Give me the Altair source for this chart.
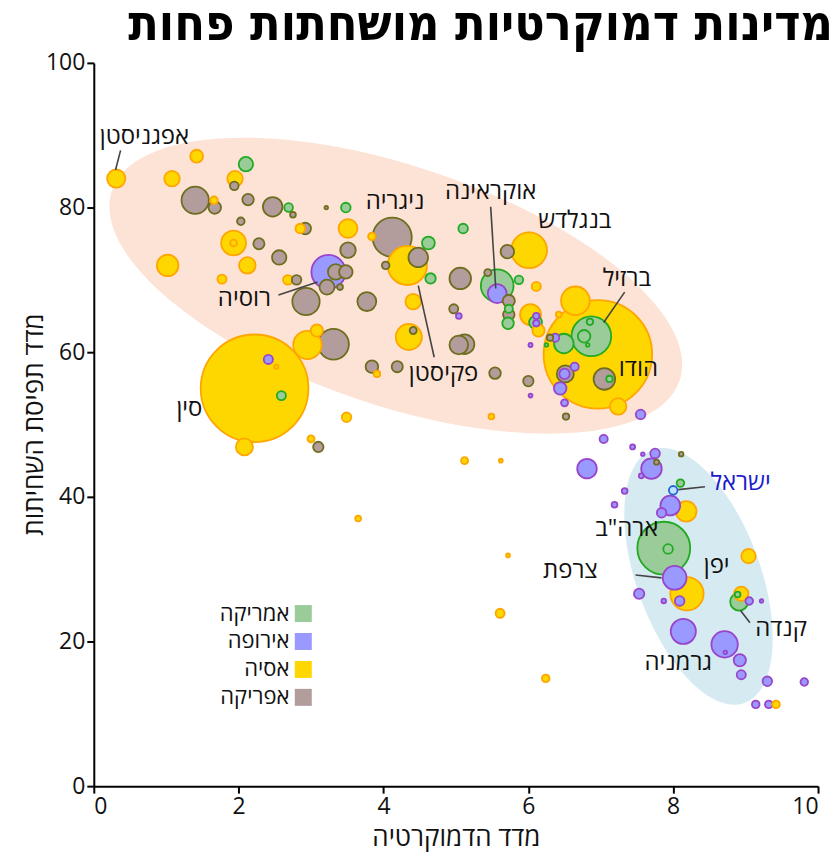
import altair as alt
import pandas as pd

# ---------------- data ----------------
AM, EU, AS, AF, IL = "אמריקה", "אירופה", "אסיה", "אפריקה", "ישראל"

bub_x = [0.31,1.42,2.10,1.08,1.95,1.94,1.40,1.66,1.67,2.13,2.47,2.69,2.75,3.21,3.48,2.03,2.85,2.92,3.51,3.84,
         4.12,1.93,1.93,2.28,1.02,2.12,1.77,2.56,3.51,3.24,3.34,3.48,3.22,3.40,2.68,2.80,2.93,3.77,2.95,3.08,
         3.31,3.84,3.91,2.22,2.41,2.52,2.59,3.49,2.08,3.00,3.10,4.33,4.48,4.62,4.65,4.03,4.41,4.35,4.41,4.19,
         5.06,5.10,4.97,5.04,5.04,5.12,5.54,5.57,5.57,5.44,5.87,5.71,6.01,5.73,5.73,5.73,5.72,6.11,6.03,6.10,
         6.11,6.11,6.14,6.03,6.25,6.30,6.37,6.65,6.42,6.87,6.85,6.77,6.82,6.49,6.96,7.05,7.12,6.51,6.50,6.44,
         6.64,6.50,6.03,6.00,5.49,6.52,7.24,7.55,7.04,5.12,5.62,7.44,7.58,7.75,7.70,7.77,8.11,6.81,7.56,7.33,
         8.10,8.00,7.96,7.84,8.18,7.19,7.87,7.93,8.02,8.19,8.09,7.53,7.87,8.14,5.61,5.72,6.24,3.65,9.04,8.91,
         8.94,8.89,9.05,9.22,8.71,8.72,8.92,8.94,9.30,9.81,9.14,9.32,9.42]
bub_y = [84.0,87.1,86.0,84.0,84.0,83.0,81.0,81.0,80.0,81.1,80.1,80.0,79.0,80.0,80.0,78.1,77.1,77.1,77.1,76.0,
         75.9,75.1,75.1,75.0,72.0,72.0,70.1,73.1,74.1,71.1,71.1,71.1,69.0,69.0,70.0,70.0,67.0,67.0,61.0,63.0,
         61.1,58.0,57.0,55.0,59.0,58.0,54.0,51.0,46.9,48.0,46.9,72.0,73.1,75.1,70.2,72.0,67.0,62.1,63.0,58.0,
         70.2,77.1,66.0,65.0,61.0,61.1,57.1,69.2,68.1,71.0,70.0,73.9,74.1,67.1,65.2,66.0,64.0,69.1,65.2,64.1,
         65.0,64.0,63.0,61.0,61.0,62.0,62.0,67.1,65.2,62.2,64.2,62.2,61.0,61.2,59.7,56.3,56.3,57.0,57.0,55.0,
         58.0,53.0,54.0,56.0,51.1,51.1,52.5,51.4,48.0,45.0,45.0,46.9,45.9,46.0,43.9,44.8,45.9,43.9,42.9,40.8,
         41.9,40.9,38.8,37.8,38.0,38.9,32.9,32.8,28.8,26.6,25.6,26.6,25.6,21.4,23.9,31.9,14.9,37.0,31.8,25.5,
         26.6,26.5,25.6,25.6,19.6,18.5,17.4,15.4,14.5,14.4,11.3,11.3,11.3]
bub_pop = [40,20,25,29,29,9,90,7,19,16,46,9,4,1.5,11,7,11,16,43,7,
           185,74,5.5,15,56,33,10,25,29,140,29,22,27,4,11,11,90,43,97,18,
           114,19,5,1400,10,2,10,11,35,6,13,185,46,20,13,7,29,82,6,15,
           56,11,10,4,42,46,16,129,43,6,9,22,155,18,16,8,16,10,53,20,
           5,5,18,2,1.5,5,8,99,4,190,5,19,1.5,46,1420,56,5,35,13,19,
           8,6,1.8,13,4,5,33,11,8,6,1.8,3,1.5,11,51,3,2.5,46,3,4,
           7,9,47,11,51,4,337,11,68,134,11,13,2.5,76,10,1.8,7,4,25,38,
           25,4,7,1.5,84,1.5,18,10,11,7,7,7,7]
bub_cont = [AS,AS,AM,AS,AS,AF,AF,AS,AF,AF,AF,AM,AF,AF,AM,AF,AS,AF,AS,AS,
            AF,AS,AS,AF,AS,AS,AS,AF,AF,EU,AF,AF,AF,AF,AS,AF,AF,AF,AS,AS,
            AF,AF,AS,AS,EU,AS,AM,AS,AS,AS,AF,AS,AF,AM,AM,AF,AS,AS,AF,AF,
            AF,AM,AF,EU,AF,AF,AF,AM,EU,AF,AM,AF,AS,AF,AF,AM,AM,AS,AS,AM,
            EU,EU,AS,EU,AM,AF,EU,AS,AS,AM,AM,AM,AM,AM,AS,AF,AM,AF,EU,EU,
            EU,EU,EU,AF,AS,AF,AS,EU,EU,AS,AS,EU,EU,EU,EU,AF,AF,EU,EU,EU,
            AM,IL,EU,EU,AS,EU,AM,AM,EU,AS,EU,EU,EU,EU,AS,AS,AS,AS,AS,AM,
            AS,AM,EU,EU,EU,EU,EU,EU,EU,EU,EU,EU,AS]

cont_names = [AM, EU, AS, AF, IL]
cont_fill = ["#99cc99", "#9999ff", "#ffd700", "#b39c9c", "#bfe0ff"]
cont_stroke = ["#22aa22", "#9944cc", "#ffa500", "#6e6e1e", "#2266cc"]

lab_text = ["אפגניסטן", "ניגריה", "אוקראינה", "בנגלדש", "ברזיל", "רוסיה", "פקיסטן", "הודו", "סין",
            "ישראל", 'ארה"ב', "צרפת", "יפן", "קנדה", "גרמניה"]
lab_x = [0.70, 4.16, 5.48, 6.64, 7.36, 2.08, 4.83, 7.52, 1.32, 8.93, 7.36, 6.58, 8.60, 9.49, 8.07]
lab_y = [89.7, 80.8, 82.1, 78.2, 70.1, 67.3, 57.0, 57.7, 52.1, 41.9, 35.6, 29.8, 30.5, 21.7, 17.0]
lab_col = ["#111111"] * 9 + ["#1a1acc"] + ["#111111"] * 5

lead_x = [0.37, 5.48, 7.33, 2.55, 4.70, 8.44, 7.48, 8.93]
lead_y = [87.9, 80.1, 68.3, 67.9, 59.3, 41.4, 29.2, 24.3]
lead_x2 = [0.30, 5.55, 7.04, 3.09, 4.48, 8.07, 7.84, 9.06]
lead_y2 = [85.2, 68.8, 64.1, 69.7, 69.2, 41.0, 28.8, 22.6]

ell_x = [4.17, 8.35]
ell_y = [69.2, 29.0]

# ---------------- frames ----------------
bub = pd.DataFrame({"x": bub_x, "y": bub_y, "pop": bub_pop, "cont": bub_cont})
labs = pd.DataFrame({"t": lab_text, "x": lab_x, "y": lab_y, "c": lab_col})
leads = pd.DataFrame({"x": lead_x, "y": lead_y, "x2": lead_x2, "y2": lead_y2})
ell1 = pd.DataFrame({"x": ell_x[:1], "y": ell_y[:1]})
ell2 = pd.DataFrame({"x": ell_x[1:], "y": ell_y[1:]})

FONT = "Open Sans, DejaVu Sans"

def ellipse_path(r):
    k = 0.5523
    return (f"M -1 0 C -1 {-k*r:.4f} {-k:.4f} {-r:.4f} 0 {-r:.4f} "
            f"C {k:.4f} {-r:.4f} 1 {-k*r:.4f} 1 0 "
            f"C 1 {k*r:.4f} {k:.4f} {r:.4f} 0 {r:.4f} "
            f"C {-k:.4f} {r:.4f} -1 {k*r:.4f} -1 0 Z")

X = alt.X("x:Q", scale=alt.Scale(domain=[0, 10]),
          axis=alt.Axis(values=[0, 2, 4, 6, 8, 10], format="d", title="מדד הדמוקרטיה"))
Y = alt.Y("y:Q", scale=alt.Scale(domain=[0, 100]),
          axis=alt.Axis(values=[0, 20, 40, 60, 80, 100], format="d", title="מדד תפיסת השחיתות",
                        titleX=-59, titleY=362, titleBaseline="middle", titleAlign="center", titleAngle=270))

e1 = alt.Chart(ell1).mark_point(shape=ellipse_path(0.40), size=360000, angle=18.5, clip=True,
                                filled=True, fill="#fde3d5", opacity=1, strokeWidth=0).encode(x=X, y=Y)
e2 = alt.Chart(ell2).mark_point(shape=ellipse_path(0.46), size=72900, angle=70, clip=True,
                                filled=True, fill="#d5ebf1", opacity=1, strokeWidth=0).encode(x="x:Q", y="y:Q")

bubbles = alt.Chart(bub).mark_circle(opacity=1, strokeWidth=1.8).encode(
    x="x:Q", y="y:Q",
    size=alt.Size("pop:Q", scale=alt.Scale(type="linear", domain=[0, 1400], range=[0, 11664]), legend=None),
    fill=alt.Fill("cont:N", scale=alt.Scale(domain=cont_names, range=cont_fill),
                  legend=alt.Legend(values=[AM, EU, AS, AF], orient="none", legendX=199, legendY=541,
                                    title=None, symbolType="square", symbolSize=290, symbolStrokeWidth=0,
                                    symbolOpacity=1, labelFontSize=22, labelFont=FONT, labelAlign="right",
                                    labelOffset={"expr": "-25"}, rowPadding=6, padding=0,
                                    labelColor="#111111")),
    stroke=alt.Stroke("cont:N", scale=alt.Scale(domain=cont_names, range=cont_stroke), legend=None),
    order=alt.Order("pop:Q", sort="descending"),
)

leaders = alt.Chart(leads).mark_rule(color="#444444", strokeWidth=1.6).encode(
    x="x:Q", y="y:Q", x2="x2:Q", y2="y2:Q")

texts = alt.Chart(labs).mark_text(fontSize=24, font=FONT, baseline="middle", align="center").encode(
    x="x:Q", y="y:Q", text="t:N", color=alt.Color("c:N", scale=None))

chart = alt.layer(e1, e2, bubbles, leaders, texts).properties(
    width=726, height=725,
    autosize=alt.AutoSizeParams(type="none"),
    padding={"left": 86, "top": 54, "right": 14, "bottom": 70},
    title=alt.TitleParams("מדינות דמוקרטיות מושחתות פחות", anchor="end", fontSize=50,
                          font="DejaVu Sans Condensed, DejaVu Sans", fontWeight="bold",
                          baseline="alphabetic", offset=8, dx=14, dy=46, color="#000000"),
).configure_view(stroke=None).configure_axis(
    domainColor="#000000", domainWidth=2, tickColor="#000000", tickWidth=2, tickSize=7,
    labelFont=FONT, labelFontSize=23, labelColor="#111111", labelPadding=2,
    titleFont=FONT, titleFontSize=26, titleFontWeight="normal", titleColor="#111111",
    grid=False,
).configure_axisX(titlePadding=7)

chart.save("out.html", embed_options={"renderer": "svg", "actions": False})
